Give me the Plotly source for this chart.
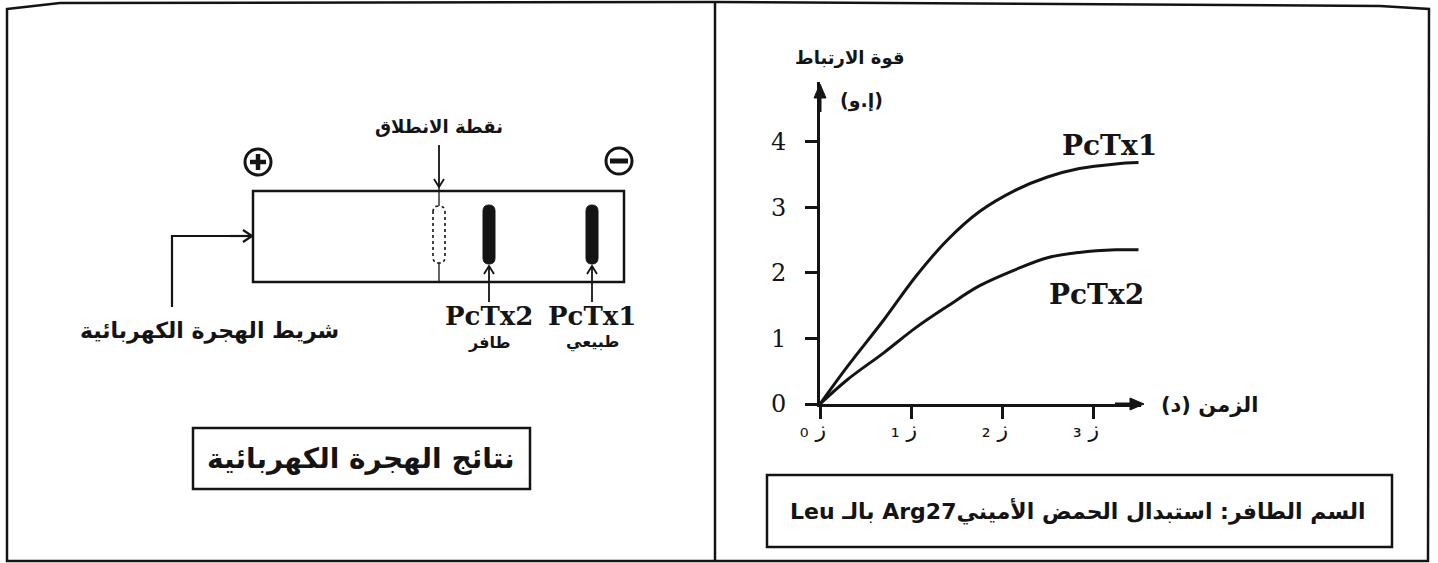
import math
import plotly.graph_objects as go

W, H = 1438, 563
INK = "#141414"
AR_FONT = "DejaVu Sans"
LAT_FONT = "DejaVu Serif"
RLE, LRO, PDF = "\u202b", "\u202d", "\u202c"
NBSP = "\u00a0"

# binding strength over time (time in ز units, strength in arbitrary units)
time_pts = [0, 0.3, 0.7, 1.05, 1.4, 1.75, 2.15, 2.5, 2.85, 3.25, 3.5]
pctx1_strength = [0, 0.57, 1.28, 1.94, 2.50, 2.93, 3.26, 3.46, 3.59, 3.66, 3.68]
pctx2_strength = [0, 0.37, 0.78, 1.16, 1.49, 1.80, 2.05, 2.23, 2.31, 2.35, 2.35]

strength_ticks = [0, 1, 2, 3, 4]
time_ticks = [0, 1, 2, 3]
time_tick_subscripts = ["₀", "₁", "₂", "₃"]

toxin_names = ["PcTx1", "PcTx2"]
toxin_status = ["طبيعي", "طافر"]

# pixel geometry of the graph axes
X0_PX, UNIT_X = 820, 91.0
Y0_PX, UNIT_Y = 404, 65.6
X_END, Y_END = 3.53, (Y0_PX - 82) / UNIT_Y


def rtl(s):
    return RLE + s + PDF


def ltr_forced(s):
    return LRO + s + PDF


def label(x, y, text, size, family=AR_FONT, bold=True):
    return dict(x=x, y=y, xref="x2", yref="y2", showarrow=False,
                text=("<b>%s</b>" % text) if bold else text,
                font=dict(size=size, family=family, color=INK),
                xanchor="center", yanchor="middle")


def line(x0, y0, x1, y1, width, dash="solid"):
    return dict(type="line", xref="x2", yref="y2", x0=x0, y0=y0, x1=x1, y1=y1,
                line=dict(color=INK, width=width, dash=dash))


def arrow(xt, yt, xs, ys, width, head_len, head_half, filled=False):
    """Shaft plus head (open chevron or filled triangle) pointing at (xt, yt)."""
    n = math.hypot(xt - xs, yt - ys)
    dx, dy = (xt - xs) / n, (yt - ys) / n
    px, py = -dy, dx
    ax_, ay_ = xt - dx * head_len + px * head_half, yt - dy * head_len + py * head_half
    bx_, by_ = xt - dx * head_len - px * head_half, yt - dy * head_len - py * head_half
    end_x = xt - dx * head_len * 0.6 if filled else xt - dx * 1
    end_y = yt - dy * head_len * 0.6 if filled else yt - dy * 1
    out = [line(xs, ys, end_x, end_y, width)]
    if filled:
        out.append(dict(type="path", xref="x2", yref="y2",
                        path=f"M{ax_},{ay_} L{xt},{yt} L{bx_},{by_} Z",
                        fillcolor=INK, line=dict(color=INK, width=1)))
    else:
        out.append(dict(type="path", xref="x2", yref="y2",
                        path=f"M{ax_},{ay_} L{xt},{yt} L{bx_},{by_}",
                        line=dict(color=INK, width=width)))
    return out


def capsule(x0, x1, y0, y1):
    xc, r = (x0 + x1) / 2, (x1 - x0) / 2
    return (f"M{x0},{y0 + r} Q{x0},{y0} {xc},{y0} Q{x1},{y0} {x1},{y0 + r} "
            f"L{x1},{y1 - r} Q{x1},{y1} {xc},{y1} Q{x0},{y1} {x0},{y1 - r} Z")


fig = go.Figure()

fig.add_trace(go.Scatter(x=time_pts, y=pctx1_strength, mode="lines", line_shape="spline",
                         line=dict(color=INK, width=3), name=toxin_names[0]))
fig.add_trace(go.Scatter(x=time_pts, y=pctx2_strength, mode="lines", line_shape="spline",
                         line=dict(color=INK, width=3), name=toxin_names[1]))
# invisible helper trace so the full-page pixel axes exist
fig.add_trace(go.Scatter(x=[0], y=[0], xaxis="x2", yaxis="y2", mode="markers",
                         marker=dict(opacity=0), hoverinfo="skip"))

shapes = []
annotations = []

# outer frame and divider
shapes.append(dict(type="path", xref="x2", yref="y2",
                   path="M7,9 L60,3 L715,2 L1380,6 L1429,9 L1428,561 L7,561 Z",
                   line=dict(color=INK, width=2.5)))
shapes.append(line(715, 2, 715, 561, 2.5))

# ---- electrophoresis panel ----
shapes.append(dict(type="rect", xref="x2", yref="y2", x0=253, x1=624, y0=191, y1=282,
                   line=dict(color=INK, width=2.5)))
# electrodes
for cx, cy in [(258, 162), (619, 161)]:
    shapes.append(dict(type="circle", xref="x2", yref="y2", x0=cx - 13, x1=cx + 13,
                       y0=cy - 13, y1=cy + 13, line=dict(color=INK, width=3)))
shapes.append(line(250, 162, 266, 162, 4.5))
shapes.append(line(258, 154, 258, 170, 4.5))
shapes.append(line(610, 161, 628, 161, 5))
# starting point
shapes.append(line(439, 186, 439, 282, 1.3))
shapes.append(dict(type="path", xref="x2", yref="y2", path=capsule(433, 445, 206, 263),
                   fillcolor="white", line=dict(color=INK, width=1.6, dash="dot")))
# migrated bands
band_x = {toxin_names[0]: 592, toxin_names[1]: 489}
for name, status in zip(toxin_names, toxin_status):
    bx = band_x[name]
    shapes.append(dict(type="path", xref="x2", yref="y2", path=capsule(bx - 6, bx + 6, 205, 264),
                       fillcolor=INK, line=dict(color=INK, width=1)))
    shapes.extend(arrow(bx, 266, bx, 302, 1.8, 8, 5))
    annotations.append(label(bx, 316, name, 26, LAT_FONT))
    annotations.append(label(bx, 342, status, 16))

annotations.append(label(439, 126, "نقطة الانطلاق", 18))
shapes.extend(arrow(439, 187, 439, 145, 1.8, 8, 5))

# strip pointer
shapes.append(dict(type="path", xref="x2", yref="y2", path="M172,307 L172,236 L248,236",
                   line=dict(color=INK, width=2.2)))
shapes.extend(arrow(252, 236, 230, 236, 2.2, 9, 6))
annotations.append(label(209, 331, "شريط الهجرة الكهربائية", 22))

shapes.append(dict(type="rect", xref="x2", yref="y2", x0=193, x1=530, y0=428, y1=489,
                   line=dict(color=INK, width=2.5)))
annotations.append(label(361, 458, "نتائج الهجرة الكهربائية", 28))

# ---- graph panel ----
shapes.extend(arrow(X0_PX, 84, X0_PX, 112, 3, 14, 6, filled=True))
shapes.extend(arrow(1144, Y0_PX, 1115, Y0_PX, 3, 14, 6, filled=True))
annotations.append(label(849, 58, "قوة الارتباط", 18))
annotations.append(label(861, 100, ltr_forced("(و.إ)"), 19))
annotations.append(label(1209, 405, rtl("الزمن (د)"), 21))
annotations.append(label(1109, 145, toxin_names[0], 28, LAT_FONT))
annotations.append(label(1096, 294, toxin_names[1], 28, LAT_FONT))

shapes.append(dict(type="rect", xref="x2", yref="y2", x0=767, x1=1392, y0=475, y1=547,
                   line=dict(color=INK, width=2.5)))
annotations.append(label(1078, 511, rtl("السم الطافر: استبدال الحمض الأميني" + "Arg27" + " بالـ " + "Leu"), 22))

# time tick labels: subscript digit on the lower left of the letter ز
time_tick_text = [ltr_forced(d + " ز" + NBSP * 2) for d in time_tick_subscripts]

hidden = dict(visible=False, showticklabels=False, automargin=False, fixedrange=True,
              showgrid=False, zeroline=False)

fig.update_layout(
    width=W, height=H, autosize=False, margin=dict(l=0, r=0, t=0, b=0, pad=0),
    paper_bgcolor="white", plot_bgcolor="rgba(0,0,0,0)",
    showlegend=False,
    shapes=shapes, annotations=annotations,
    xaxis=dict(domain=[X0_PX / W, (X0_PX + X_END * UNIT_X) / W], range=[0, X_END],
               anchor="y", automargin=False, showgrid=False, zeroline=False, showline=True,
               linecolor=INK, linewidth=3, ticks="outside", ticklen=12, tickwidth=2.5,
               tickcolor=INK, tickvals=time_ticks, ticktext=time_tick_text,
               tickfont=dict(size=22, family=AR_FONT, color=INK), ticklabelstandoff=-8),
    yaxis=dict(domain=[(H - Y0_PX) / H, (H - Y0_PX + Y_END * UNIT_Y) / H], range=[0, Y_END],
               anchor="x", automargin=False, showgrid=False, zeroline=False, showline=True,
               linecolor=INK, linewidth=3, ticks="outside", ticklen=12, tickwidth=2.5,
               tickcolor=INK, tickvals=strength_ticks,
               tickfont=dict(size=24, family=LAT_FONT, color=INK), ticklabelstandoff=14),
    xaxis2=dict(domain=[0, 1], range=[0, W], anchor="y2", **hidden),
    yaxis2=dict(domain=[0, 1], range=[H, 0], anchor="x2", **hidden),
)

fig.write_html("out.html")
